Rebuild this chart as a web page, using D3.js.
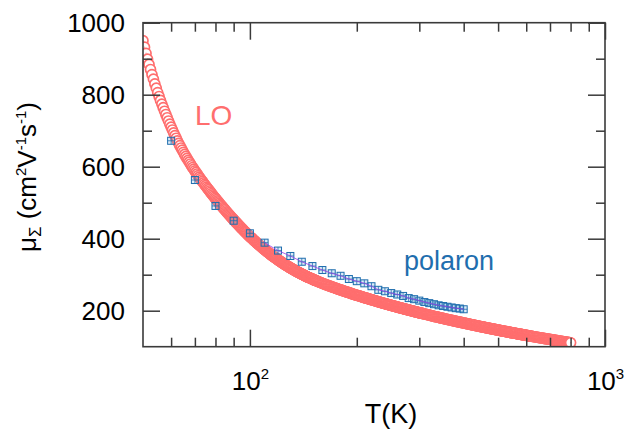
<!DOCTYPE html>
<html>
<head>
<meta charset="utf-8">
<script src="https://cdn.jsdelivr.net/npm/d3@7"></script>
<style>
  body { margin: 0; background: #fff; }
  svg { display: block; }
  text { font-family: "Liberation Sans", Arial, Helvetica, sans-serif; }
</style>
</head>
<body>
<svg id="chart" width="625" height="432"></svg>
<script>
// LO-phonon limited mobility (open circles), temperatures in K
const loT = [
  50,50.5,51,51.5,52,52.5,53,53.5,54,54.5,55,55.5,56,56.5,57,57.5,58,58.5,59,59.5,
  60,60.5,61,61.5,62,62.5,63,63.5,64,64.5,65,65.5,66,66.5,67,67.5,68,68.5,69,69.5,
  70,70.5,71,71.5,72,72.5,73,73.5,74,74.5,75,75.5,76,76.5,77,77.5,78,78.5,79,79.5,
  80,80.5,81,81.5,82,82.5,83,83.5,84,84.5,85,85.5,86,86.5,87,87.5,88,88.5,89,89.5,
  90,90.5,91,91.5,92,92.5,93,93.5,94,94.5,95,95.5,96,96.5,97,97.5,98,98.5,99,99.5,
  100,100.5,101,101.5,102,102.5,103,103.5,104,104.5,105,105.5,106,106.5,107,107.5,108,108.5,109,109.5,
  110,110.5,111,111.5,112,112.5,113,113.5,114,114.5,115,115.5,116,116.5,117,117.5,118,118.5,119,119.5,
  120,120.5,121,121.5,122,122.5,123,123.5,124,124.5,125,125.5,126,126.5,127,127.5,128,128.5,129,129.5,
  130,130.5,131,131.5,132,132.5,133,133.5,134,134.5,135,135.5,136,136.5,137,137.5,138,138.5,139,139.5,
  140,140.5,141,141.5,142,142.5,143,143.5,144,144.5,145,145.5,146,146.5,147,147.5,148,148.5,149,149.5,
  150,150.5,151,151.5,152,152.5,153,153.5,154,
  155,156,157,158,159,160,161,162,163,164,165,166,167,168,169,170,171,172,173,174,
  175,176,177,178,179,180,181,182,183,184,185,186,187,188,189,190,191,192,193,194,
  195,196,197,198,199,200,201,202,203,204,205,206,207,208,209,210,211,212,213,214,
  215,216,217,218,219,220,221,222,223,224,225,226,227,228,229,230,231,232,233,234,
  235,236,237,238,239,240,241,242,243,244,245,246,247,248,249,250,251,252,253,254,
  255,256,257,258,259,260,261,262,263,264,265,266,267,268,269,270,271,272,273,274,
  275,276,277,278,279,280,281,282,283,284,285,286,287,288,289,290,291,292,293,294,
  295,296,297,298,299,300,301,302,303,304,305,306,307,308,
  310,312,314,316,318,320,322,324,326,328,330,332,334,336,338,340,342,344,346,348,
  350,352,354,356,358,360,362,364,366,368,370,372,374,376,378,380,382,384,386,388,
  390,392,394,396,398,400,402,404,406,408,410,412,414,416,418,420,422,424,426,428,
  430,432,434,436,438,440,442,444,446,448,450,452,454,456,458,460,462,464,466,468,
  470,472,474,476,478,480,482,484,486,488,490,492,494,496,498,500,502,504,506,508,
  510,512,514,516,518,520,522,524,526,528,530,532,534,536,538,540,542,544,546,548,
  550,552,554,556,558,560,562,564,566,568,570,572,574,576,578,580,582,584,586,588,
  590,592,594,596,598,600,602,604,606,608,610,612,614,616,
  620,624,628,632,636,640,644,648,652,656,660,664,668,672,676,680,684,688,692,696,
  700,704,708,712,716,720,724,728,732,736,740,744,748,752,756,760,764,768,772,776,
  780,784,788,792,796,800
];
// LO-phonon limited mobility, cm^2 V^-1 s^-1
const loMu = [
  950,932,915,899,884,870,856,843,830,818,806,795,784,774,764,754,745,736,727,718,
  710,702,694,686.5,679,672,665,658.5,652,646,640,634.2,628.5,623.1,617.7,612.6,607.5,602.6,597.8,593.2,
  588.6,584.1,579.7,575.4,571.2,567.1,563.0,559.0,555.0,551.1,547.3,543.5,539.8,536.1,532.5,529.0,525.4,522.0,518.5,515.1,
  511.8,508.5,505.2,502.0,498.8,495.6,492.5,489.5,486.5,483.5,480.5,477.6,474.7,471.8,469.0,466.2,463.5,460.8,458.1,455.4,
  452.8,450.2,447.6,445.0,442.5,440.0,437.6,435.1,432.7,430.3,428.0,425.7,423.4,421.1,418.8,416.6,414.4,412.2,410.0,407.9,
  405.8,403.9,402.0,400.1,398.2,396.2,394.3,392.4,390.5,388.6,386.7,385.0,383.3,381.6,379.9,378.1,376.4,374.7,373.0,371.3,
  369.6,368.1,366.6,365.1,363.6,362.0,360.5,359.0,357.5,356.0,354.5,353.1,351.8,350.5,349.2,347.8,346.5,345.2,343.9,342.5,
  341.2,340.0,338.8,337.6,336.5,335.3,334.1,332.9,331.8,330.6,329.4,328.3,327.3,326.2,325.2,324.2,323.2,322.1,321.1,320.0,
  319.0,318.0,317.1,316.2,315.3,314.3,313.4,312.5,311.6,310.6,309.7,308.9,308.1,307.2,306.4,305.6,304.8,303.9,303.1,302.3,
  301.5,300.7,300.0,299.3,298.6,297.8,297.1,296.4,295.7,294.9,294.2,293.5,292.9,292.2,291.6,290.9,290.2,289.5,288.9,288.2,
  287.6,287.0,286.4,285.8,285.2,284.6,284.0,283.4,282.8,
  281.6,280.5,279.4,278.3,277.2,276.1,275.1,274.1,273.1,272.1,271.1,270.2,269.2,268.3,267.3,266.4,265.5,264.6,263.8,262.9,
  262.0,261.2,260.3,259.5,258.6,257.8,257.0,256.2,255.4,254.6,253.8,253.0,252.3,251.5,250.8,250.0,249.3,248.6,247.8,247.1,
  246.4,245.7,245.0,244.3,243.6,242.9,242.2,241.6,240.9,240.3,239.7,239.1,238.4,237.8,237.1,236.5,235.9,235.3,234.7,234.1,
  233.5,232.9,232.3,231.7,231.1,230.5,229.9,229.4,228.8,228.3,227.7,227.1,226.5,226.0,225.4,224.9,224.4,223.9,223.3,222.8,
  222.3,221.8,221.2,220.7,220.2,219.7,219.2,218.7,218.2,217.7,217.2,216.8,216.3,215.8,215.3,214.8,214.3,213.9,213.4,213.0,
  212.5,212.1,211.6,211.2,210.7,210.3,209.8,209.4,208.9,208.5,208.1,207.7,207.2,206.8,206.3,205.9,205.5,205.1,204.7,204.3,
  203.9,203.5,203.1,202.7,202.3,201.9,201.5,201.1,200.7,200.3,199.9,199.6,199.2,198.8,198.4,198.0,197.6,197.3,196.9,196.5,
  196.1,195.8,195.4,195.0,194.6,194.3,193.9,193.6,193.2,192.9,192.6,192.3,191.9,191.6,
  190.9,190.2,189.6,188.9,188.3,187.6,187.0,186.3,185.7,185.0,184.4,183.8,183.2,182.6,182.0,181.4,180.8,180.2,179.7,179.1,
  178.5,178.0,177.4,176.9,176.3,175.8,175.3,174.8,174.2,173.7,173.2,172.7,172.2,171.6,171.1,170.6,170.1,169.6,169.2,168.7,
  168.2,167.7,167.3,166.8,166.4,165.9,165.5,165.0,164.6,164.1,163.7,163.2,162.8,162.3,161.9,161.4,161.0,160.6,160.2,159.7,
  159.3,158.9,158.5,158.0,157.6,157.2,156.8,156.4,156.0,155.6,155.3,154.9,154.5,154.1,153.7,153.3,153.0,152.6,152.2,151.8,
  151.5,151.1,150.7,150.3,150.0,149.6,149.3,148.9,148.6,148.2,147.9,147.5,147.2,146.8,146.5,146.1,145.8,145.5,145.2,144.8,
  144.5,144.2,143.9,143.5,143.2,142.9,142.6,142.3,142.0,141.7,141.4,141.1,140.8,140.5,140.2,139.9,139.6,139.3,139.0,138.7,
  138.5,138.2,137.9,137.6,137.3,137.0,136.7,136.4,136.2,135.9,135.6,135.3,135.1,134.8,134.5,134.2,134.0,133.7,133.4,133.1,
  132.9,132.6,132.3,132.0,131.8,131.5,131.3,131.0,130.8,130.5,130.3,130.1,129.8,129.6,
  129.1,128.6,128.1,127.7,127.2,126.7,126.3,125.8,125.4,124.9,124.5,124.1,123.6,123.2,122.7,122.3,121.9,121.5,121.1,120.7,
  120.3,119.9,119.5,119.1,118.7,118.3,117.9,117.5,117.1,116.7,116.3,115.9,115.6,115.2,114.9,114.5,114.1,113.8,113.4,113.1,
  112.7,112.4,112.0,111.7,111.3,111.0
];

// Polaron mobility (open squares)
const polaronT = [60,70,80,90,100,110,120,130,140,150,160,170,180,190,200,210,220,230,240,250,
                  260,270,280,290,300,310,320,330,340,350,360,370,380,390,400];
const polaronMu = [672,563,491,450,415,389,367,352,336,324,313,304,297,288,282,276,268,258,254,249,
                   245,241,235,232,228,224,221,218,215,213,211,209,207,206,204];
// thin guide line drawn through the polaron points from this temperature on
const polaronLineFrom = 110;

// Axis ticks and labels
const xMajorTicks = [100, 1000];
const xMinorTicks = [60, 70, 80, 90, 200, 300, 400, 500, 600, 700, 800, 900];
const yMajorTicks = [200, 400, 600, 800, 1000];
const yMinorTicks = [300, 500, 700, 900];
const xDomain = [50, 1000];
const yDomain = [100, 1000];
const xTitle = "T(K)";
const seriesLabels = { lo: "LO", polaron: "polaron" };

const colorLO = "#ff6e6e";
const colorPolaron = "#1f6eae";
const colorGuide = "#9a3ce6";
const axisColor = "#3a3a3a";

const margin = { left: 143, top: 22.7, right: 20, bottom: 85.3 };
const W = 625, H = 432;
const iw = W - margin.left - margin.right;   // 462
const ih = H - margin.top - margin.bottom;   // 324

const svg = d3.select("#chart");
const g = svg.append("g").attr("transform", `translate(${margin.left},${margin.top})`);

const x = d3.scaleLog().domain(xDomain).range([0, iw]);
const y = d3.scaleLinear().domain(yDomain).range([ih, 0]);

g.append("clipPath").attr("id", "plotClip")
  .append("rect").attr("width", iw).attr("height", ih);

// ---- data layer ----
const plot = g.append("g").attr("clip-path", "url(#plotClip)");

const loPts = loT.map((t, i) => ({ t, mu: loMu[i] }));
const loG = plot.append("g").selectAll("g").data(loPts).join("g")
  .attr("transform", d => `translate(${x(d.t)},${y(d.mu)})`);
loG.append("circle").attr("r", 5).attr("fill", "#fff")
  .attr("stroke", colorLO).attr("stroke-width", 1.7);
loG.append("circle").attr("r", 0.7).attr("fill", colorLO).attr("opacity", 0.6);

const polPts = polaronT.map((t, i) => ({ t, mu: polaronMu[i] }));
const pG = plot.append("g").selectAll("g").data(polPts).join("g")
  .attr("transform", d => `translate(${x(d.t)},${y(d.mu)})`);
pG.append("rect").attr("x", -3.5).attr("y", -3.5).attr("width", 7).attr("height", 7)
  .attr("fill", "rgba(120,175,225,0.25)").attr("stroke", colorPolaron).attr("stroke-width", 1);
pG.append("path").attr("d", "M-3.5,0H3.5M0,-3.5V3.5")
  .attr("stroke", colorPolaron).attr("stroke-width", 0.8);

const guide = d3.line().x(d => x(d.t)).y(d => y(d.mu));
plot.append("path").datum(polPts.filter(d => d.t >= polaronLineFrom))
  .attr("d", guide).attr("fill", "none")
  .attr("stroke", colorGuide).attr("stroke-width", 0.8);

// ---- axes ----
function styleAxis(sel) {
  sel.select(".domain").remove();
  sel.selectAll(".tick line").attr("stroke", axisColor).attr("stroke-width", 1.5);
  sel.selectAll(".tick text").attr("fill", "#000");
}
const majorLen = 17, minorLen = 9;

// left
g.append("g").call(d3.axisLeft(y).tickValues(yMajorTicks).tickSize(-majorLen).tickPadding(18)
    .tickFormat(d3.format("d")))
  .call(styleAxis)
  .call(s => s.selectAll(".tick text").attr("font-size", 26));
g.append("g").call(d3.axisLeft(y).tickValues(yMinorTicks).tickSize(-minorLen).tickFormat(""))
  .call(styleAxis);
// right
g.append("g").attr("transform", `translate(${iw},0)`)
  .call(d3.axisRight(y).tickValues(yMajorTicks).tickSize(-majorLen).tickFormat(""))
  .call(styleAxis);
g.append("g").attr("transform", `translate(${iw},0)`)
  .call(d3.axisRight(y).tickValues(yMinorTicks).tickSize(-minorLen).tickFormat(""))
  .call(styleAxis);
// bottom
g.append("g").attr("transform", `translate(0,${ih})`)
  .call(d3.axisBottom(x).tickValues(xMajorTicks).tickSize(-majorLen).tickPadding(25))
  .call(styleAxis)
  .call(s => s.selectAll(".tick text").each(function (d) {
    const t = d3.select(this).attr("font-size", 26).text(null);
    t.append("tspan").text("10");
    t.append("tspan").attr("font-size", 15).attr("dy", -11).text(Math.round(Math.log10(d)));
  }));
g.append("g").attr("transform", `translate(0,${ih})`)
  .call(d3.axisBottom(x).tickValues(xMinorTicks).tickSize(-minorLen).tickFormat(""))
  .call(styleAxis);
// top
g.append("g")
  .call(d3.axisTop(x).tickValues(xMajorTicks).tickSize(-majorLen).tickFormat(""))
  .call(styleAxis);
g.append("g")
  .call(d3.axisTop(x).tickValues(xMinorTicks).tickSize(-minorLen).tickFormat(""))
  .call(styleAxis);

// frame
g.append("rect").attr("width", iw).attr("height", ih)
  .attr("fill", "none").attr("stroke", axisColor).attr("stroke-width", 1.6);

// axis titles
svg.append("text").attr("x", 391).attr("y", 422.5).attr("text-anchor", "middle")
  .attr("font-size", 27).attr("fill", "#000").text(xTitle);

const yt = svg.append("text").attr("transform", "translate(36,177) rotate(-90)")
  .attr("text-anchor", "middle").attr("font-size", 26).attr("fill", "#000");
yt.append("tspan").text("\u03bc");
yt.append("tspan").attr("font-size", 17).attr("dy", 5).text("\u03a3");
yt.append("tspan").attr("dy", -5).text(" (cm");
yt.append("tspan").attr("font-size", 15).attr("dy", -10).text("2");
yt.append("tspan").attr("dy", 10).text("V");
yt.append("tspan").attr("font-size", 15).attr("dy", -10).text("-1");
yt.append("tspan").attr("dy", 10).text("s");
yt.append("tspan").attr("font-size", 15).attr("dy", -10).text("-1");
yt.append("tspan").attr("dy", 10).text(")");

// series labels
svg.append("text").attr("x", 195).attr("y", 125).attr("font-size", 28)
  .attr("fill", colorLO).text(seriesLabels.lo);
svg.append("text").attr("x", 404).attr("y", 270).attr("font-size", 27)
  .attr("fill", colorPolaron).text(seriesLabels.polaron);
</script>
</body>
</html>
